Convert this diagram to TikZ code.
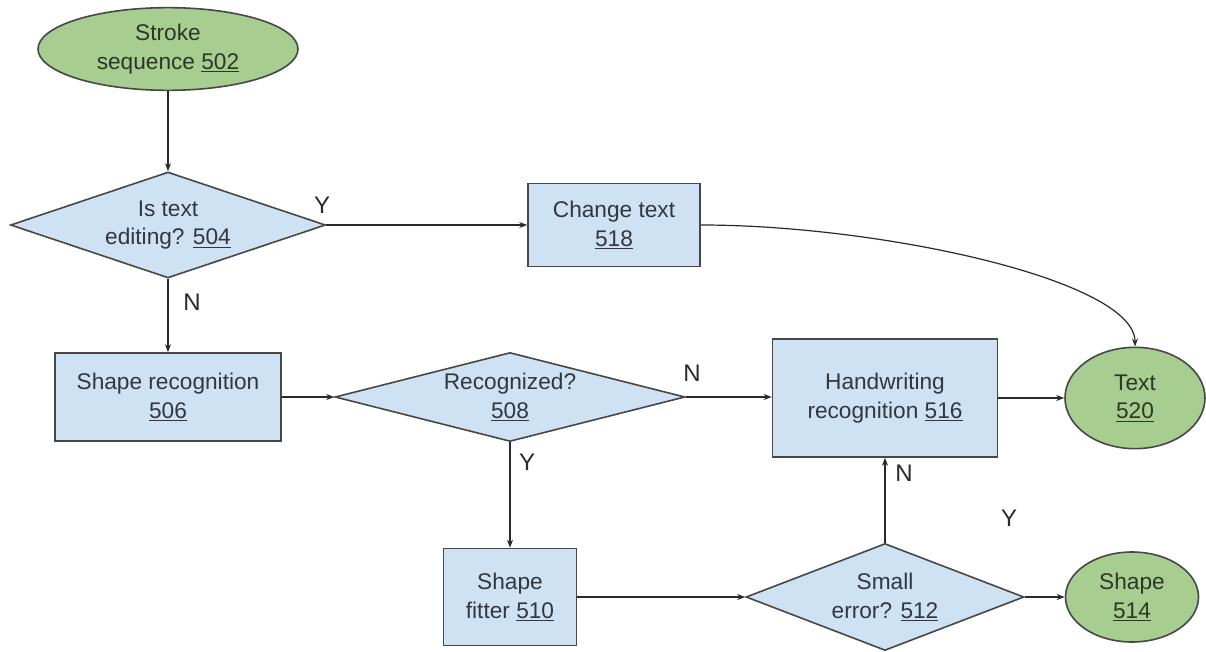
\documentclass[tikz,border=0pt]{standalone}
\usepackage{fontspec}
\setmainfont{Liberation Sans}
\usetikzlibrary{shapes.geometric,arrows.meta}
\definecolor{bfill}{HTML}{CFE2F3}
\definecolor{gfill}{HTML}{A8CD91}
\definecolor{edgec}{HTML}{474747}
\definecolor{txtc}{HTML}{2F3742}
\definecolor{gtxtc}{HTML}{2A3827}
\definecolor{linec}{HTML}{2A2A2A}
\begin{document}
\begin{tikzpicture}[x=0.75pt,y=-0.75pt,
  font=\fontsize{17}{21.5}\selectfont,
  box/.style={draw=edgec, line width=1.2pt, fill=bfill, text=txtc, align=center, inner sep=0pt},
  dec/.style={diamond, draw=edgec, line width=1.2pt, fill=bfill, text=txtc, align=center, inner sep=0pt},
  term/.style={ellipse, draw=edgec, line width=1.2pt, fill=gfill, text=gtxtc, align=center, inner sep=0pt},
  arr/.style={draw=linec, line width=0.9pt, -{Stealth[length=6pt,width=4.5pt]}},
  lab/.style={text=linec, font=\fontsize{18}{21}\selectfont, inner sep=0pt}
]
\useasboundingbox (0,0) rectangle (1206,652);
\fill[white] (0,0) rectangle (1206,652);

\node[term, minimum width=195pt, minimum height=62pt] (n502) at (168,49) {Stroke\\sequence \underline{502}};
\node[dec, aspect=3, minimum width=236.25pt, minimum height=79.5pt] (n504) at (168,225) {Is text\\editing? \underline{504}};
\node[box, minimum width=129pt, minimum height=62.25pt] (n518) at (614,225) {Change text\\\underline{518}};
\node[box, minimum width=169.5pt, minimum height=66pt] (n506) at (168,397) {Shape recognition\\\underline{506}};
\node[dec, aspect=3.93, minimum width=262.5pt, minimum height=66.75pt] (n508) at (510,397) {Recognized?\\\underline{508}};
\node[box, minimum width=168.75pt, minimum height=88.5pt] (n516) at (885,398) {Handwriting\\recognition \underline{516}};
\node[term, minimum width=105pt, minimum height=76pt] (n520) at (1135,398) {Text\\\underline{520}};
\node[box, minimum width=99.75pt, minimum height=72.75pt] (n510) at (510,597) {Shape\\fitter \underline{510}};
\node[dec, aspect=2.6, minimum width=208.5pt, minimum height=80.25pt] (n512) at (885,597) {Small\\error? \underline{512}};
\node[term, minimum width=99.75pt, minimum height=67.5pt] (n514) at (1132,597) {Shape\\\underline{514}};

\draw[arr] (n502.south) -- (n504.north);
\draw[arr] (n504.east) -- (n518.west);
\draw[arr] (n504.south) -- (n506.north);
\draw[arr] (n506.east) -- (n508.west);
\draw[arr] (n508.east) -- (n508.east -| n516.west);
\draw[arr] (n516.east) -- (n520.west);
\draw[arr] (n508.south) -- (n510.north);
\draw[arr] (n510.east) -- (n512.west);
\draw[arr] (n512.east) -- (n514.west);
\draw[arr] (n512.north) -- (n516.south);
\draw[arr] (n518.east) .. controls (880,225) and (1135,280) .. (n520.north);

\node[lab] (ly1) at (322,205) {Y};
\node[lab] (ln1) at (192,302) {N};
\node[lab] (ln2) at (692,373) {N};
\node[lab] (ly2) at (527,462) {Y};
\node[lab] (ln3) at (904,473) {N};
\node[lab] (ly3) at (1009,518) {Y};
\end{tikzpicture}
\end{document}
